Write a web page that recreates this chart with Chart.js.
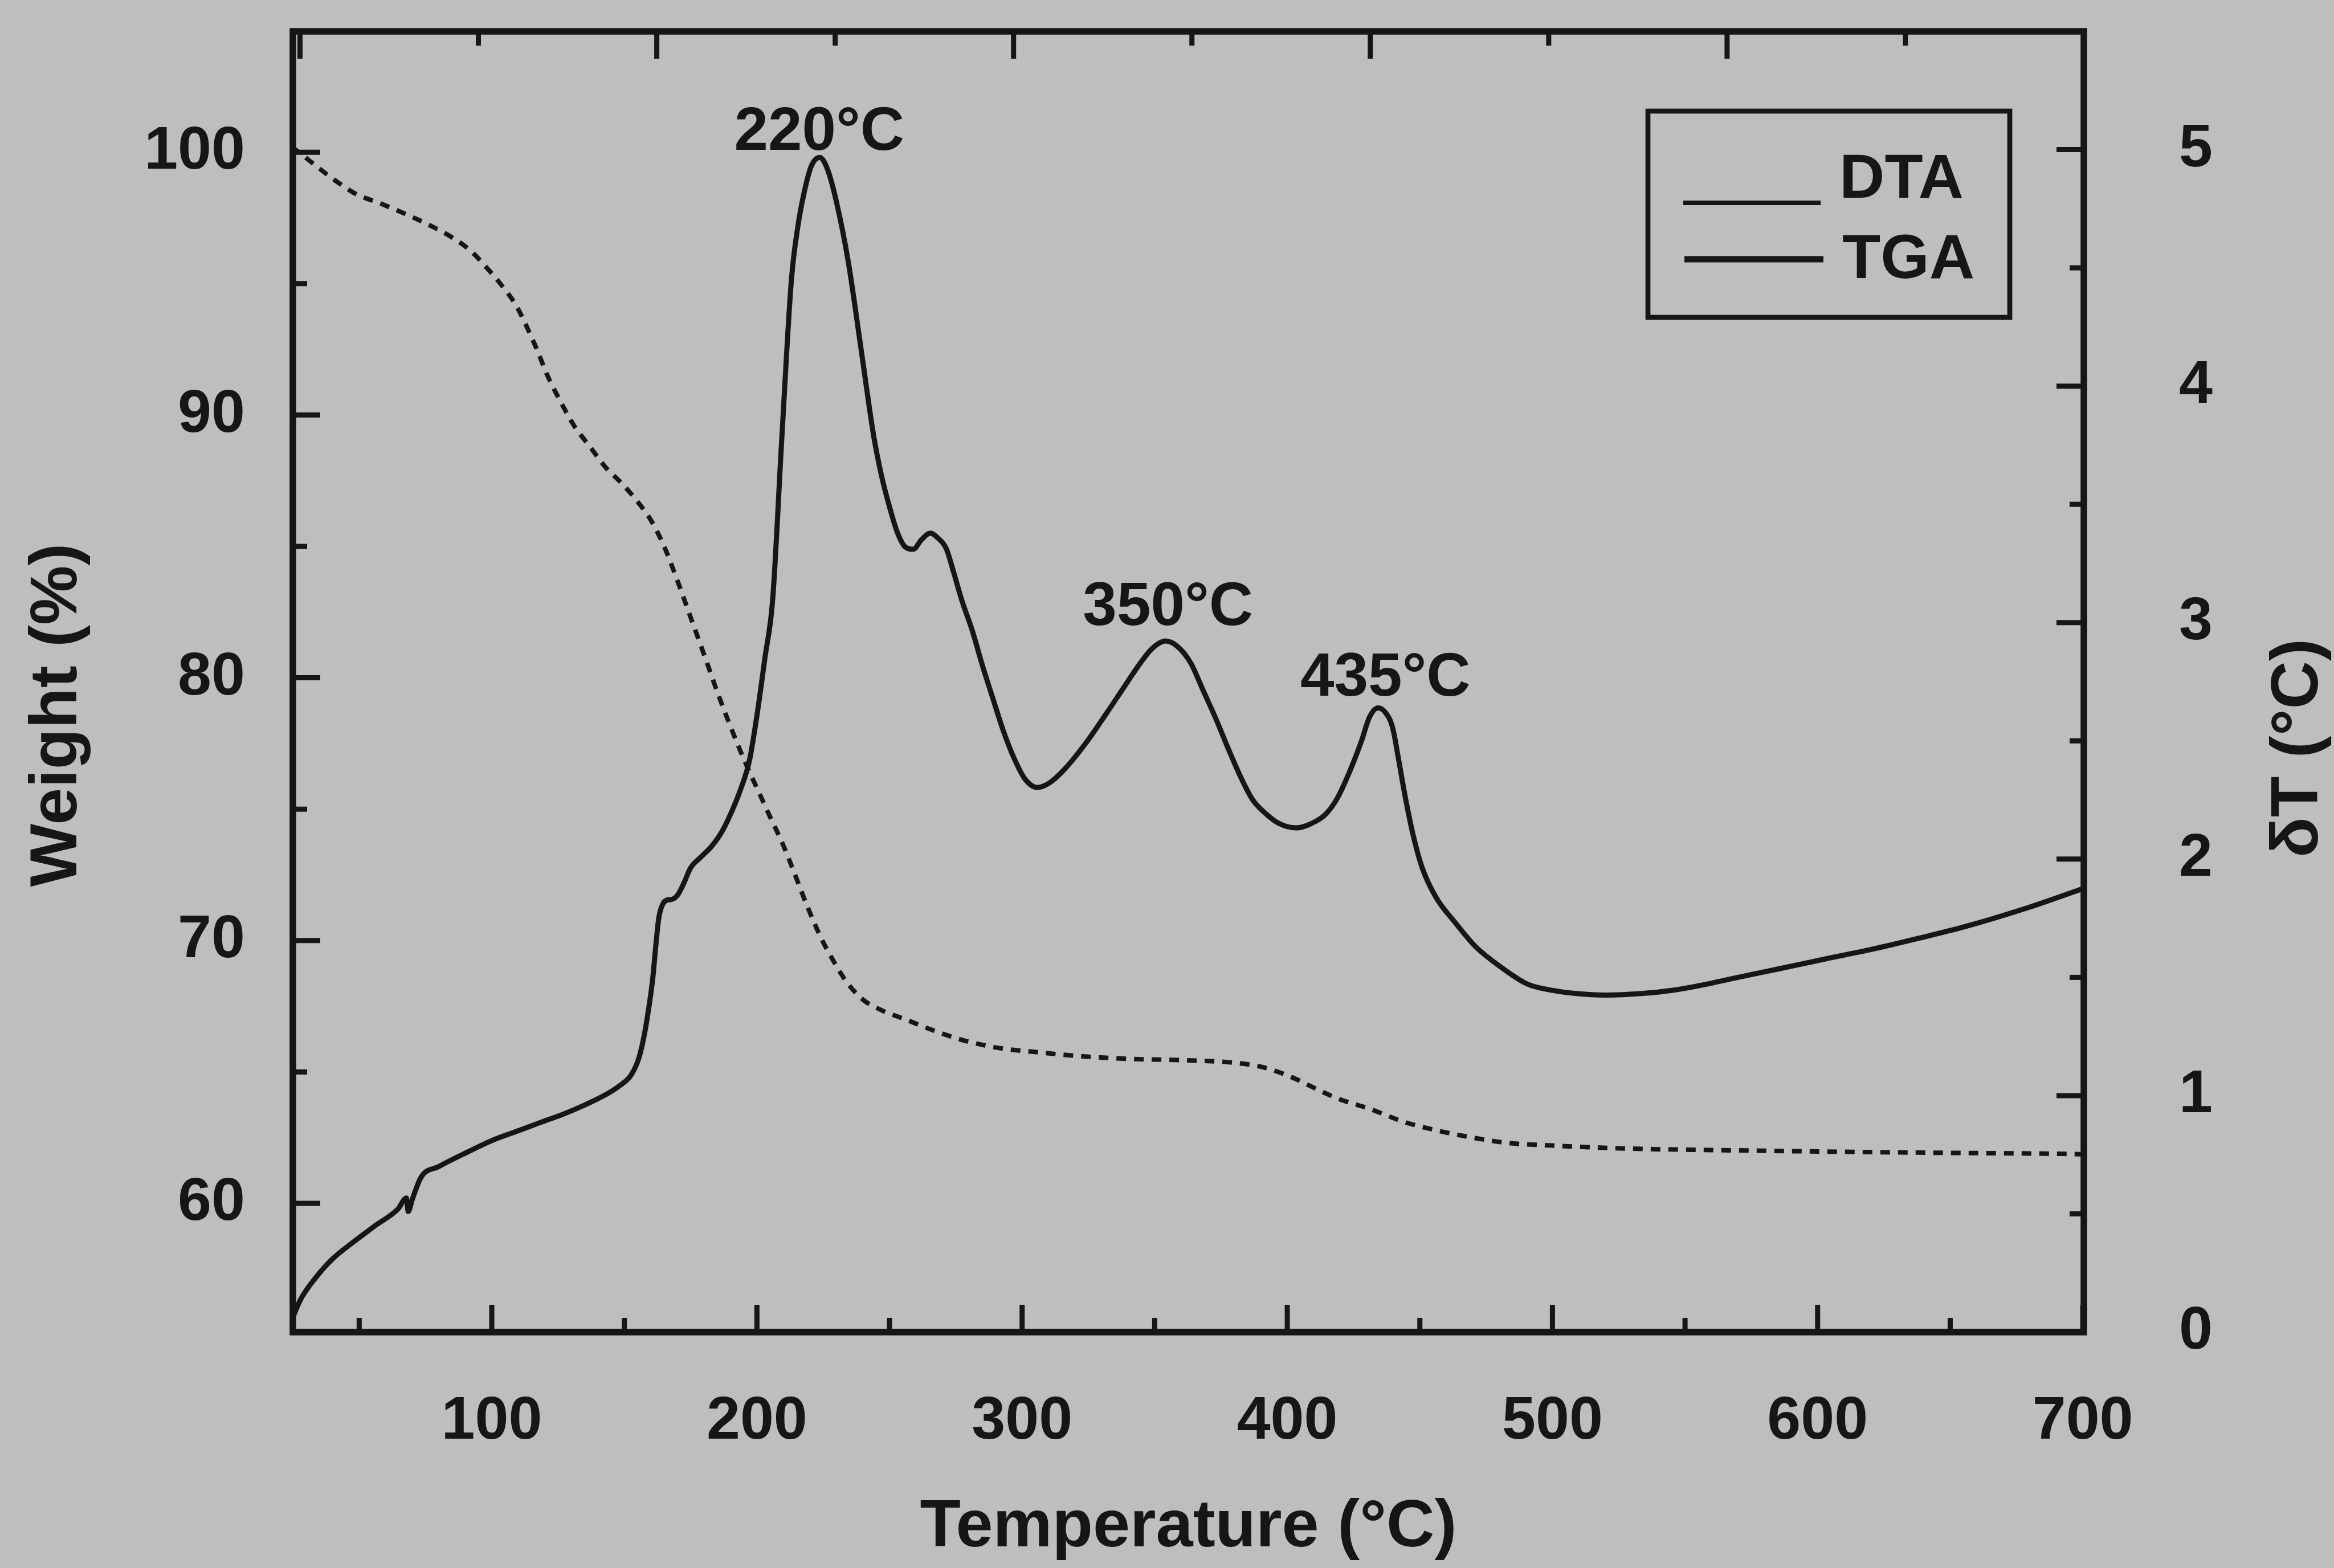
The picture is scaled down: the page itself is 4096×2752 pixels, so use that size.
<!DOCTYPE html>
<html>
<head>
<meta charset="utf-8">
<title>DTA / TGA</title>
<script src="https://cdn.jsdelivr.net/npm/chart.js@4.4.1/dist/chart.umd.min.js"></script>
<style>
  html, body { margin: 0; padding: 0; background: #bebebe; }
  #wrap { width: 4096px; height: 2752px; }
</style>
</head>
<body>
<div id="wrap"><canvas id="dtaTgaChart" width="4096" height="2752"></canvas></div>
<script>
// DTA curve (right axis, deltaT in degC)
const dtaTemp = [24.5, 28, 33.6, 40, 47.7, 56, 64.6, 67.8, 68.5, 70, 73.4, 80, 90.8, 100, 109.9, 118, 127.3, 135, 143.3, 148,
  152.6, 155.5, 157.4, 159.2, 160.7, 162, 163, 164.5, 166.1, 168, 170.2, 172.5, 175, 179, 182.9, 187, 190.8, 194, 197.2, 200.3,
  203, 205.9, 209.4, 213, 215.5, 217.8, 220.5, 223.7, 226.5, 229.8, 234.5, 239.3, 244.1, 247, 250, 253, 255.9, 259, 262, 265.4,
  268, 271.4, 274, 277.3, 281.1, 285, 289.1, 293, 297, 301, 305.7, 310, 316, 324, 331.8, 338, 344.6, 349, 354.1, 358.5,
  363.6, 368, 373.1, 378, 382.6, 387, 392.2, 397, 403.3, 409, 414.4, 419, 423.9, 428, 431, 434.2, 437, 439.7, 442, 444.5,
  447.5, 450.8, 456, 463.5, 471, 479.4, 490.5, 500, 508.5, 520, 534.2, 545, 554.9, 570, 585.8, 603, 620.7, 638, 655.1, 678, 700];
const dtaDelta = [0.05, 0.14, 0.23, 0.31, 0.38, 0.45, 0.52, 0.567, 0.51, 0.56, 0.656, 0.70, 0.761, 0.81, 0.851, 0.885, 0.923, 0.96, 1.006, 1.04,
  1.088, 1.16, 1.25, 1.37, 1.495, 1.65, 1.752, 1.81, 1.827, 1.83, 1.85, 1.9, 1.963, 2.01, 2.054, 2.12, 2.209, 2.3, 2.418, 2.63,
  2.85, 3.093, 3.784, 4.449, 4.68, 4.818, 4.93, 4.967, 4.92, 4.788, 4.522, 4.154, 3.784, 3.62, 3.489, 3.38, 3.32, 3.31, 3.35, 3.378,
  3.36, 3.313, 3.22, 3.093, 2.97, 2.82, 2.675, 2.54, 2.426, 2.34, 2.303, 2.32, 2.38, 2.49, 2.616, 2.72, 2.829, 2.89, 2.922, 2.9,
  2.829, 2.72, 2.593, 2.46, 2.343, 2.25, 2.189, 2.15, 2.132, 2.15, 2.189, 2.26, 2.38, 2.5, 2.6, 2.639, 2.62, 2.557, 2.42, 2.262,
  2.1, 1.966, 1.84, 1.729, 1.63, 1.553, 1.472, 1.445, 1.432, 1.425, 1.432, 1.445, 1.464, 1.5, 1.537, 1.578, 1.619, 1.665, 1.713, 1.79, 1.875];

// TGA curve (left axis, weight %)
const tgaTemp = [24.5, 28, 31, 36, 42, 49, 58, 67, 76, 85, 92, 99, 104, 109, 113, 117, 121, 126, 131, 137,
  143, 149, 155, 160, 165, 170, 175, 180, 186, 191, 195.5, 200, 205, 209.8, 214, 219, 224.2, 229, 234, 240,
  247, 256, 266, 278, 292, 306, 322, 340, 360, 380, 390, 398, 405, 412, 420, 431, 444, 457, 470, 483,
  500, 518, 534, 560, 603, 650, 696, 700];
const tgaWeight = [100.2, 99.95, 99.7, 99.3, 98.85, 98.4, 98.05, 97.67, 97.25, 96.76, 96.25, 95.5, 94.9, 94.2, 93.4, 92.5, 91.5, 90.5, 89.6, 88.8,
  88.0, 87.4, 86.7, 86.0, 85.0, 83.7, 82.3, 80.9, 79.2, 77.9, 76.8, 75.8, 74.7, 73.66, 72.6, 71.3, 70.1, 69.2, 68.4, 67.75,
  67.35, 67.0, 66.6, 66.2, 65.9, 65.75, 65.6, 65.5, 65.45, 65.35, 65.2, 64.95, 64.65, 64.3, 63.95, 63.6, 63.1, 62.76, 62.5, 62.3,
  62.2, 62.12, 62.07, 62.03, 61.97, 61.92, 61.88, 61.87];

// ticks
const tempTicks = [100, 200, 300, 400, 500, 600, 700];
const tempMinorTicks = [50, 150, 250, 350, 450, 550, 650];
const weightTicks = [60, 70, 80, 90, 100];
const weightMinorTicks = [65, 75, 85, 95];
const deltaTicks = [0, 1, 2, 3, 4, 5];
const deltaMinorTicks = [0.5, 1.5, 2.5, 3.5, 4.5];
const topTicks = [0, 2, 4, 6, 8, 10];
const topMinorTicks = [1, 3, 5, 7, 9];

// peak labels
const peakLabels = ['220°C', '350°C', '435°C'];
const peakLabelTemp = [223.5, 355, 437];
const peakLabelDelta = [5.0, 2.99, 2.69];

const legendNames = ['DTA', 'TGA'];

const ink = '#161616';
const family = "'Liberation Sans', Arial, Helvetica, sans-serif";

// fixed axis boxes, no extra label padding around the plot
const fixBox = (s, size) => {
  if (s.isHorizontal()) s.height = size; else s.width = size;
  s.paddingTop = 0; s.paddingBottom = 0; s.paddingLeft = 0; s.paddingRight = 0;
};

const frameAndTicks = {
  id: 'frameAndTicks',
  afterDatasetsDraw(chart) {
    const { ctx, chartArea: a, scales } = chart;
    const major = 48, minor = 25;
    ctx.save();
    ctx.strokeStyle = ink;
    ctx.lineCap = 'butt';
    ctx.lineWidth = 9;
    const tickX = (scale, vals, len, y, dir) => vals.forEach(v => {
      const px = scale.getPixelForValue(v);
      ctx.beginPath(); ctx.moveTo(px, y); ctx.lineTo(px, y + dir * len); ctx.stroke();
    });
    const tickY = (scale, vals, len, x, dir) => vals.forEach(v => {
      const py = scale.getPixelForValue(v);
      ctx.beginPath(); ctx.moveTo(x, py); ctx.lineTo(x + dir * len, py); ctx.stroke();
    });
    tickX(scales.x, tempTicks, major, a.bottom, -1);
    tickX(scales.x, tempMinorTicks, minor, a.bottom, -1);
    tickX(scales.x2, topTicks, major, a.top, 1);
    tickX(scales.x2, topMinorTicks, minor, a.top, 1);
    tickY(scales.yWeight, weightTicks, major, a.left, 1);
    tickY(scales.yWeight, weightMinorTicks, minor, a.left, 1);
    tickY(scales.yDelta, deltaTicks, major, a.right, -1);
    tickY(scales.yDelta, deltaMinorTicks, minor, a.right, -1);
    ctx.lineWidth = 11.5;
    ctx.strokeRect(a.left, a.top, a.right - a.left, a.bottom - a.top);
    ctx.restore();
  }
};

const labelsAndLegend = {
  id: 'labelsAndLegend',
  afterDraw(chart) {
    const { ctx, chartArea: a, scales } = chart;
    ctx.save();
    ctx.fillStyle = ink;
    ctx.strokeStyle = ink;

    // peak temperatures
    ctx.font = 'bold 107px ' + family;
    ctx.textAlign = 'center';
    ctx.textBaseline = 'alphabetic';
    peakLabels.forEach((txt, i) => {
      ctx.fillText(txt, scales.x.getPixelForValue(peakLabelTemp[i]), scales.yDelta.getPixelForValue(peakLabelDelta[i]));
    });

    // vertical axis titles, both reading bottom to top
    const vTitle = (txt, cx, cy) => {
      ctx.save();
      ctx.translate(cx, cy);
      ctx.rotate(-Math.PI / 2);
      ctx.font = 'bold 117px ' + family;
      ctx.textAlign = 'center';
      ctx.fillText(txt, 0, 0.358 * 117);
      ctx.restore();
    };
    vTitle('Weight (%)', 92, 1255);
    vTitle('δT (°C)', 4025, 1313);

    // legend box
    const bx = a.right - 765, by = a.top + 140, bw = 635, bh = 362;
    ctx.fillStyle = '#bebebe';
    ctx.fillRect(bx, by, bw, bh);
    ctx.lineWidth = 8.7;
    ctx.strokeRect(bx, by, bw, bh);
    ctx.fillStyle = ink;
    ctx.lineWidth = 8;
    ctx.beginPath(); ctx.moveTo(bx + 62, by + 161); ctx.lineTo(bx + 303, by + 161); ctx.stroke();
    ctx.lineWidth = 11;
    ctx.beginPath(); ctx.moveTo(bx + 64, by + 260); ctx.lineTo(bx + 308, by + 260); ctx.stroke();
    ctx.font = 'bold 110px ' + family;
    ctx.textAlign = 'left';
    ctx.fillText(legendNames[0], bx + 336, by + 152);
    ctx.fillText(legendNames[1], bx + 341, by + 293);
    ctx.restore();
  }
};

const ctx = document.getElementById('dtaTgaChart').getContext('2d');

const config = {
  type: 'scatter',
  data: {
    datasets: [
      {
        label: legendNames[0],
        data: dtaTemp.map((t, i) => ({ x: t, y: dtaDelta[i] })),
        xAxisID: 'x',
        yAxisID: 'yDelta',
        showLine: true,
        borderColor: ink,
        borderWidth: 9,
        pointRadius: 0,
        cubicInterpolationMode: 'monotone',
        fill: false
      },
      {
        label: legendNames[1],
        data: tgaTemp.map((t, i) => ({ x: t, y: tgaWeight[i] })),
        xAxisID: 'x',
        yAxisID: 'yWeight',
        showLine: true,
        borderColor: ink,
        borderWidth: 8,
        borderDash: [17, 14],
        pointRadius: 0,
        cubicInterpolationMode: 'monotone',
        fill: false
      }
    ]
  },
  options: {
    responsive: false,
    devicePixelRatio: 1,
    animation: false,
    layout: { padding: { top: 55, left: 0, right: 0, bottom: 0 } },
    plugins: {
      legend: { display: false },
      tooltip: { enabled: false }
    },
    scales: {
      x: {
        type: 'linear',
        position: 'bottom',
        min: 25,
        max: 700.4,
        afterBuildTicks: s => { s.ticks = tempTicks.map(v => ({ value: v })); },
        afterFit: s => fixBox(s, 414),
        grid: { display: false, drawTicks: false },
        border: { display: false },
        ticks: { color: ink, font: { family, size: 106, weight: 'bold' }, padding: 94, maxRotation: 0, autoSkip: false },
        title: { display: true, text: 'Temperature (°C)', color: ink, font: { family, size: 117, weight: 'bold' }, padding: 0 }
      },
      x2: {
        type: 'linear',
        position: 'top',
        min: -0.04,
        max: 10,
        display: false
      },
      yWeight: {
        type: 'linear',
        position: 'left',
        min: 55.1,
        max: 104.6,
        afterBuildTicks: s => { s.ticks = weightTicks.map(v => ({ value: v })); },
        afterFit: s => fixBox(s, 514),
        grid: { display: false, drawTicks: false },
        border: { display: false },
        ticks: { color: ink, font: { family, size: 106, weight: 'bold' }, padding: 84, autoSkip: false }
      },
      yDelta: {
        type: 'linear',
        position: 'right',
        min: 0,
        max: 5.5,
        afterBuildTicks: s => { s.ticks = deltaTicks.map(v => ({ value: v })); },
        afterFit: s => fixBox(s, 439),
        grid: { display: false, drawTicks: false },
        border: { display: false },
        ticks: { color: ink, font: { family, size: 106, weight: 'bold' }, padding: 167, autoSkip: false }
      }
    }
  },
  plugins: [frameAndTicks, labelsAndLegend]
};

const chart = new Chart(ctx, config);
</script>
</body>
</html>
